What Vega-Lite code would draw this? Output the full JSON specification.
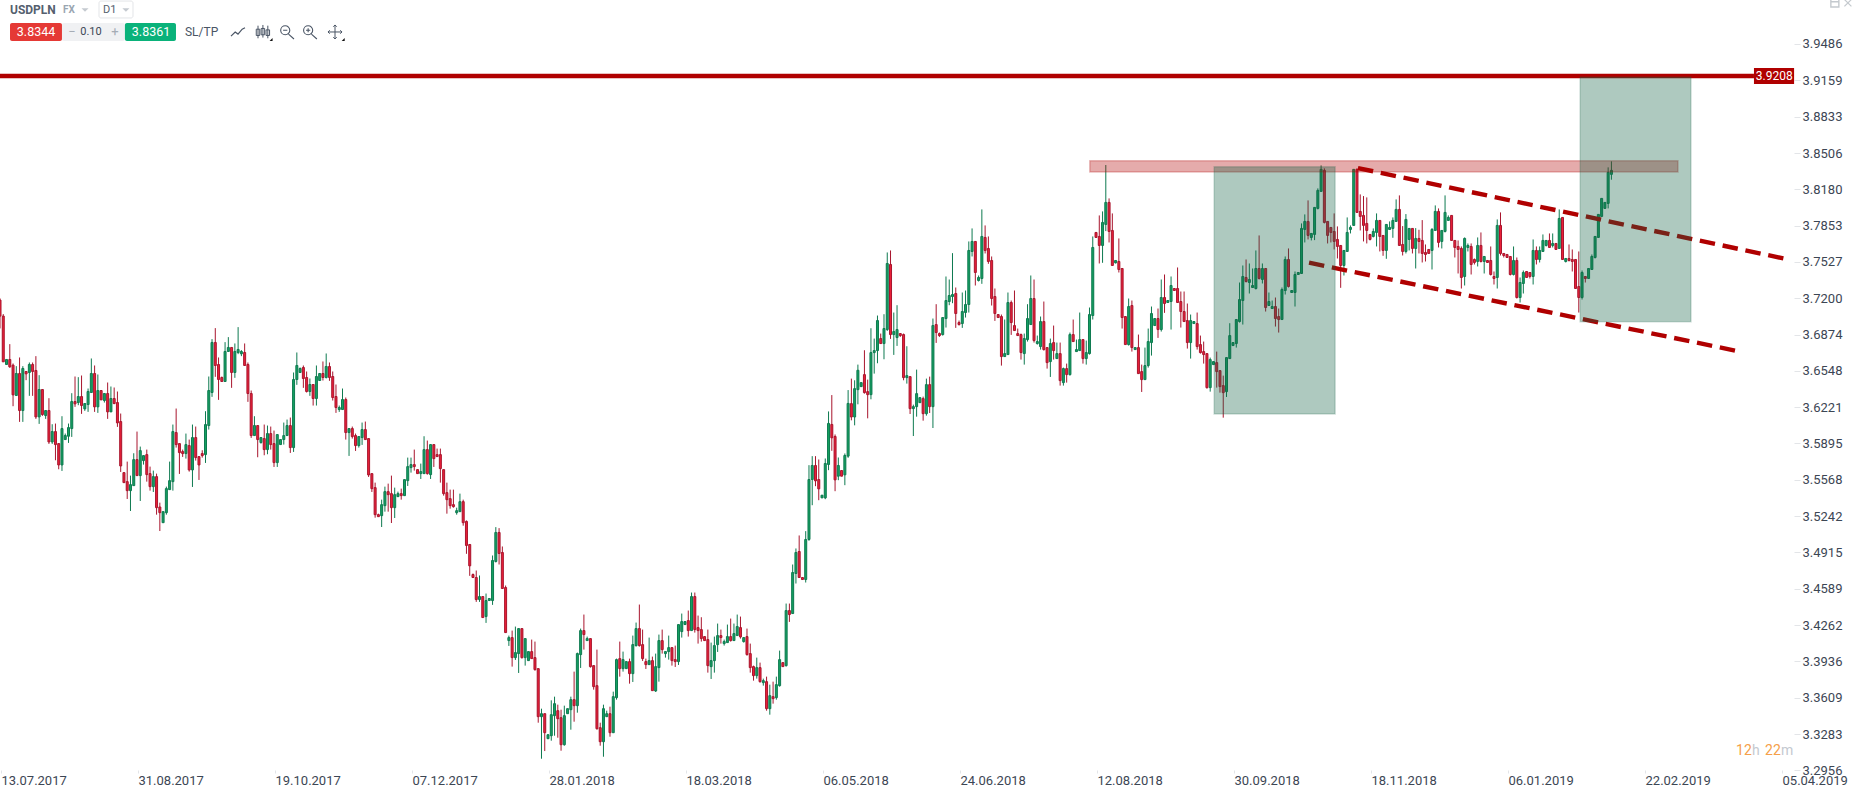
{"$schema":"https://vega.github.io/schema/vega-lite/v6.json","width":1859,"height":797,"autosize":"none","padding":0,"background":"white","config":{"view":{"stroke":null},"font":"Roboto"},
"datasets":{"candles":[
{"i":0,"o":3.7184,"h":3.7199,"l":3.6929,"c":3.704},{"i":1,"o":3.704,"h":3.7058,"l":3.6629,"c":3.6629},{"i":2,"o":3.6605,"h":3.665,"l":3.6605,"c":3.665},{"i":3,"o":3.665,"h":3.6788,"l":3.6575,"c":3.6584},{"i":4,"o":3.6599,"h":3.6614,"l":3.623,"c":3.6332},{"i":5,"o":3.6326,"h":3.659,"l":3.6326,"c":3.6524},{"i":6,"o":3.6524,"h":3.6668,"l":3.6089,"c":3.6191},{"i":7,"o":3.6191,"h":3.659,"l":3.6089,"c":3.6569},{"i":8,"o":3.6542,"h":3.6542,"l":3.6464,"c":3.6521},{"i":9,"o":3.6533,"h":3.6623,"l":3.6323,"c":3.6605},
{"i":10,"o":3.6605,"h":3.6623,"l":3.6323,"c":3.6542},{"i":11,"o":3.6551,"h":3.668,"l":3.6116,"c":3.6134},{"i":12,"o":3.6134,"h":3.6509,"l":3.6071,"c":3.638},{"i":13,"o":3.638,"h":3.638,"l":3.6143,"c":3.6155},{"i":14,"o":3.6146,"h":3.6191,"l":3.6116,"c":3.6191},{"i":15,"o":3.6191,"h":3.6302,"l":3.5891,"c":3.5909},{"i":16,"o":3.5909,"h":3.6068,"l":3.5891,"c":3.6002},{"i":17,"o":3.6002,"h":3.6074,"l":3.5744,"c":3.5885},{"i":18,"o":3.5894,"h":3.5894,"l":3.5663,"c":3.5702},{"i":19,"o":3.5702,"h":3.614,"l":3.5648,"c":3.6029},
{"i":20,"o":3.593,"h":3.5984,"l":3.593,"c":3.5966},{"i":21,"o":3.596,"h":3.6074,"l":3.59,"c":3.6038},{"i":22,"o":3.6029,"h":3.6347,"l":3.5954,"c":3.6272},{"i":23,"o":3.6272,"h":3.6497,"l":3.6224,"c":3.6251},{"i":24,"o":3.6263,"h":3.6491,"l":3.6239,"c":3.6317},{"i":25,"o":3.6317,"h":3.6506,"l":3.6161,"c":3.6236},{"i":26,"o":3.6206,"h":3.6254,"l":3.6188,"c":3.6254},{"i":27,"o":3.6245,"h":3.6389,"l":3.6179,"c":3.6362},{"i":28,"o":3.6353,"h":3.6659,"l":3.6353,"c":3.6524},{"i":29,"o":3.6524,"h":3.6596,"l":3.6179,"c":3.6224},
{"i":30,"o":3.6224,"h":3.6515,"l":3.617,"c":3.6371},{"i":31,"o":3.6371,"h":3.6371,"l":3.6287,"c":3.6287},{"i":32,"o":3.6281,"h":3.6344,"l":3.6263,"c":3.6344},{"i":33,"o":3.6344,"h":3.6443,"l":3.6116,"c":3.6179},{"i":34,"o":3.6179,"h":3.6407,"l":3.6179,"c":3.6299},{"i":35,"o":3.6299,"h":3.6398,"l":3.6248,"c":3.6254},{"i":36,"o":3.6263,"h":3.6362,"l":3.6044,"c":3.608},{"i":37,"o":3.6092,"h":3.6164,"l":3.5639,"c":3.5693},{"i":38,"o":3.5633,"h":3.5633,"l":3.5543,"c":3.5543},{"i":39,"o":3.5552,"h":3.5732,"l":3.5396,"c":3.5471},
{"i":40,"o":3.5471,"h":3.5606,"l":3.5288,"c":3.5525},{"i":41,"o":3.5516,"h":3.5807,"l":3.5516,"c":3.575},{"i":42,"o":3.575,"h":3.6002,"l":3.5606,"c":3.5606},{"i":43,"o":3.5606,"h":3.5867,"l":3.5378,"c":3.5831},{"i":44,"o":3.5741,"h":3.5786,"l":3.5705,"c":3.5786},{"i":45,"o":3.5795,"h":3.584,"l":3.5552,"c":3.5615},{"i":46,"o":3.5624,"h":3.5687,"l":3.5471,"c":3.5507},{"i":47,"o":3.5507,"h":3.5651,"l":3.5459,"c":3.5597},{"i":48,"o":3.5597,"h":3.5624,"l":3.5255,"c":3.5318},{"i":49,"o":3.5324,"h":3.5363,"l":3.5108,"c":3.5273},
{"i":50,"o":3.5183,"h":3.5282,"l":3.5183,"c":3.5282},{"i":51,"o":3.5273,"h":3.5507,"l":3.5255,"c":3.5489},{"i":52,"o":3.548,"h":3.5732,"l":3.548,"c":3.5561},{"i":53,"o":3.5552,"h":3.6065,"l":3.5471,"c":3.6002},{"i":54,"o":3.5993,"h":3.6209,"l":3.5858,"c":3.5885},{"i":55,"o":3.5894,"h":3.5894,"l":3.5621,"c":3.5813},{"i":56,"o":3.5822,"h":3.584,"l":3.5774,"c":3.5804},{"i":57,"o":3.5804,"h":3.5984,"l":3.5759,"c":3.5885},{"i":58,"o":3.5876,"h":3.593,"l":3.5642,"c":3.5657},{"i":59,"o":3.5657,"h":3.6065,"l":3.5504,"c":3.5948},
{"i":60,"o":3.5948,"h":3.6047,"l":3.5741,"c":3.5768},{"i":61,"o":3.5777,"h":3.5777,"l":3.5567,"c":3.5702},{"i":62,"o":3.5804,"h":3.5834,"l":3.5768,"c":3.5786},{"i":63,"o":3.5795,"h":3.6185,"l":3.572,"c":3.6065},{"i":64,"o":3.6056,"h":3.6497,"l":3.602,"c":3.6371},{"i":65,"o":3.6353,"h":3.6833,"l":3.6314,"c":3.6803},{"i":66,"o":3.6803,"h":3.6932,"l":3.6494,"c":3.6596},{"i":67,"o":3.6605,"h":3.6668,"l":3.6287,"c":3.647},{"i":68,"o":3.6488,"h":3.6497,"l":3.6452,"c":3.6452},{"i":69,"o":3.6452,"h":3.6806,"l":3.6452,"c":3.6722},
{"i":70,"o":3.6722,"h":3.6851,"l":3.6722,"c":3.6758},{"i":71,"o":3.6758,"h":3.6758,"l":3.6395,"c":3.6533},{"i":72,"o":3.6533,"h":3.6794,"l":3.6485,"c":3.6722},{"i":73,"o":3.6713,"h":3.6941,"l":3.6698,"c":3.674},{"i":74,"o":3.6701,"h":3.6734,"l":3.668,"c":3.6722},{"i":75,"o":3.6713,"h":3.6794,"l":3.6596,"c":3.6596},{"i":76,"o":3.6605,"h":3.6623,"l":3.6269,"c":3.6344},{"i":77,"o":3.6344,"h":3.6371,"l":3.5945,"c":3.5966},{"i":78,"o":3.5966,"h":3.614,"l":3.5966,"c":3.6056},{"i":79,"o":3.6056,"h":3.6056,"l":3.5771,"c":3.593},
{"i":80,"o":3.5903,"h":3.5948,"l":3.5894,"c":3.5948},{"i":81,"o":3.5939,"h":3.6065,"l":3.5789,"c":3.584},{"i":82,"o":3.584,"h":3.6056,"l":3.5798,"c":3.5984},{"i":83,"o":3.5984,"h":3.6047,"l":3.584,"c":3.5885},{"i":84,"o":3.5894,"h":3.6011,"l":3.5684,"c":3.5723},{"i":85,"o":3.5723,"h":3.5975,"l":3.5684,"c":3.5975},{"i":86,"o":3.5885,"h":3.593,"l":3.5885,"c":3.593},{"i":87,"o":3.593,"h":3.6083,"l":3.5885,"c":3.5966},{"i":88,"o":3.5966,"h":3.611,"l":3.5966,"c":3.6056},{"i":89,"o":3.6056,"h":3.6128,"l":3.581,"c":3.5858},
{"i":90,"o":3.5858,"h":3.6533,"l":3.5819,"c":3.647},{"i":91,"o":3.647,"h":3.6713,"l":3.6422,"c":3.6596},{"i":92,"o":3.6533,"h":3.6578,"l":3.6533,"c":3.6569},{"i":93,"o":3.6578,"h":3.6596,"l":3.6395,"c":3.6479},{"i":94,"o":3.6488,"h":3.6542,"l":3.6353,"c":3.6362},{"i":95,"o":3.6362,"h":3.6479,"l":3.6323,"c":3.6425},{"i":96,"o":3.6425,"h":3.6425,"l":3.6236,"c":3.6299},{"i":97,"o":3.6299,"h":3.6596,"l":3.6236,"c":3.6497},{"i":98,"o":3.6461,"h":3.6524,"l":3.6461,"c":3.6524},{"i":99,"o":3.6524,"h":3.6632,"l":3.6461,"c":3.6488},
{"i":100,"o":3.6488,"h":3.6704,"l":3.6479,"c":3.6587},{"i":101,"o":3.6587,"h":3.6623,"l":3.6458,"c":3.6488},{"i":102,"o":3.6497,"h":3.6542,"l":3.6281,"c":3.6308},{"i":103,"o":3.6317,"h":3.6425,"l":3.617,"c":3.6218},{"i":104,"o":3.62,"h":3.6236,"l":3.6179,"c":3.6218},{"i":105,"o":3.62,"h":3.6389,"l":3.62,"c":3.629},{"i":106,"o":3.629,"h":3.6308,"l":3.593,"c":3.5993},{"i":107,"o":3.5993,"h":3.6029,"l":3.5783,"c":3.6029},{"i":108,"o":3.6029,"h":3.6047,"l":3.5939,"c":3.5957},{"i":109,"o":3.5966,"h":3.5984,"l":3.5828,"c":3.5876},
{"i":110,"o":3.5876,"h":3.5957,"l":3.5858,"c":3.5957},{"i":111,"o":3.5948,"h":3.6083,"l":3.5882,"c":3.602},{"i":112,"o":3.602,"h":3.6092,"l":3.593,"c":3.593},{"i":113,"o":3.5939,"h":3.5939,"l":3.5594,"c":3.5612},{"i":114,"o":3.5624,"h":3.5624,"l":3.5459,"c":3.5489},{"i":115,"o":3.5498,"h":3.5543,"l":3.5228,"c":3.5255},{"i":116,"o":3.5255,"h":3.5264,"l":3.5237,"c":3.5237},{"i":117,"o":3.5246,"h":3.539,"l":3.5144,"c":3.5345},{"i":118,"o":3.5336,"h":3.5507,"l":3.5282,"c":3.5462},{"i":119,"o":3.5462,"h":3.5534,"l":3.5282,"c":3.5435},
{"i":120,"o":3.5444,"h":3.5606,"l":3.518,"c":3.5318},{"i":121,"o":3.5318,"h":3.5498,"l":3.5225,"c":3.5435},{"i":122,"o":3.5417,"h":3.5462,"l":3.5417,"c":3.5444},{"i":123,"o":3.5444,"h":3.5489,"l":3.539,"c":3.5426},{"i":124,"o":3.5426,"h":3.557,"l":3.5426,"c":3.557},{"i":125,"o":3.5561,"h":3.5768,"l":3.5513,"c":3.5687},{"i":126,"o":3.5678,"h":3.5768,"l":3.5633,"c":3.5705},{"i":127,"o":3.5705,"h":3.584,"l":3.5651,"c":3.5687},{"i":128,"o":3.566,"h":3.566,"l":3.5624,"c":3.5624},{"i":129,"o":3.5624,"h":3.5714,"l":3.5576,"c":3.5642},
{"i":130,"o":3.5624,"h":3.596,"l":3.5624,"c":3.584},{"i":131,"o":3.584,"h":3.5921,"l":3.5615,"c":3.5624},{"i":132,"o":3.5615,"h":3.5885,"l":3.5576,"c":3.5885},{"i":133,"o":3.5885,"h":3.5885,"l":3.5684,"c":3.5759},{"i":134,"o":3.5795,"h":3.5849,"l":3.5777,"c":3.5777},{"i":135,"o":3.5795,"h":3.5849,"l":3.5543,"c":3.5669},{"i":136,"o":3.566,"h":3.566,"l":3.5426,"c":3.5444},{"i":137,"o":3.5453,"h":3.5543,"l":3.5264,"c":3.539},{"i":138,"o":3.5399,"h":3.548,"l":3.5309,"c":3.5336},{"i":139,"o":3.5345,"h":3.548,"l":3.5318,"c":3.5327},
{"i":140,"o":3.5273,"h":3.5318,"l":3.5255,"c":3.5291},{"i":141,"o":3.5282,"h":3.5444,"l":3.5282,"c":3.5372},{"i":142,"o":3.5372,"h":3.539,"l":3.5156,"c":3.5183},{"i":143,"o":3.5194,"h":3.5203,"l":3.4903,"c":3.4978},{"i":144,"o":3.4987,"h":3.4987,"l":3.4705,"c":3.4795},{"i":145,"o":3.4717,"h":3.4726,"l":3.469,"c":3.469},{"i":146,"o":3.469,"h":3.4753,"l":3.4471,"c":3.4492},{"i":147,"o":3.4492,"h":3.4708,"l":3.4471,"c":3.4519},{"i":148,"o":3.4519,"h":3.4519,"l":3.433,"c":3.433},{"i":149,"o":3.4339,"h":3.4546,"l":3.4282,"c":3.4483},
{"i":150,"o":3.4483,"h":3.4501,"l":3.4483,"c":3.4501},{"i":151,"o":3.4483,"h":3.4888,"l":3.4444,"c":3.4843},{"i":152,"o":3.4834,"h":3.5143,"l":3.4825,"c":3.5095},{"i":153,"o":3.5095,"h":3.5134,"l":3.4807,"c":3.4906},{"i":154,"o":3.4915,"h":3.4969,"l":3.4591,"c":3.4591},{"i":155,"o":3.46,"h":3.4618,"l":3.4195,"c":3.4195},{"i":156,"o":3.4123,"h":3.4168,"l":3.4075,"c":3.415},{"i":157,"o":3.415,"h":3.4213,"l":3.3889,"c":3.397},{"i":158,"o":3.397,"h":3.4249,"l":3.3949,"c":3.4015},{"i":159,"o":3.4006,"h":3.4231,"l":3.3832,"c":3.4231},
{"i":160,"o":3.4231,"h":3.4231,"l":3.3961,"c":3.397},{"i":161,"o":3.397,"h":3.4141,"l":3.3898,"c":3.4141},{"i":162,"o":3.3943,"h":3.4024,"l":3.3943,"c":3.4024},{"i":163,"o":3.4024,"h":3.4132,"l":3.3961,"c":3.3961},{"i":164,"o":3.397,"h":3.4114,"l":3.3853,"c":3.3862},{"i":165,"o":3.3871,"h":3.3871,"l":3.3385,"c":3.3439},{"i":166,"o":3.3439,"h":3.3511,"l":3.3061,"c":3.3466},{"i":167,"o":3.3466,"h":3.3466,"l":3.313,"c":3.3295},{"i":168,"o":3.3241,"h":3.3277,"l":3.3241,"c":3.3277},{"i":169,"o":3.3268,"h":3.3586,"l":3.3223,"c":3.3457},
{"i":170,"o":3.3448,"h":3.3619,"l":3.3268,"c":3.3556},{"i":171,"o":3.3493,"h":3.3547,"l":3.325,"c":3.3421},{"i":172,"o":3.343,"h":3.3502,"l":3.3133,"c":3.3187},{"i":173,"o":3.3187,"h":3.3538,"l":3.3178,"c":3.3448},{"i":174,"o":3.3466,"h":3.3511,"l":3.3466,"c":3.3511},{"i":175,"o":3.3502,"h":3.3619,"l":3.3322,"c":3.3592},{"i":176,"o":3.3592,"h":3.3844,"l":3.3394,"c":3.3538},{"i":177,"o":3.3538,"h":3.4015,"l":3.3475,"c":3.4006},{"i":178,"o":3.3997,"h":3.4231,"l":3.3877,"c":3.4213},{"i":179,"o":3.4213,"h":3.4357,"l":3.4042,"c":3.4177},
{"i":180,"o":3.4123,"h":3.4159,"l":3.4123,"c":3.4141},{"i":181,"o":3.4141,"h":3.4141,"l":3.388,"c":3.3889},{"i":182,"o":3.3898,"h":3.3898,"l":3.3682,"c":3.3709},{"i":183,"o":3.3718,"h":3.4042,"l":3.3322,"c":3.3331},{"i":184,"o":3.334,"h":3.3385,"l":3.3178,"c":3.3214},{"i":185,"o":3.3214,"h":3.3547,"l":3.3079,"c":3.3511},{"i":186,"o":3.3439,"h":3.3493,"l":3.3439,"c":3.3466},{"i":187,"o":3.3466,"h":3.3529,"l":3.3259,"c":3.3295},{"i":188,"o":3.3295,"h":3.3664,"l":3.3295,"c":3.3619},{"i":189,"o":3.361,"h":3.3961,"l":3.3592,"c":3.3952},
{"i":190,"o":3.3961,"h":3.4114,"l":3.3799,"c":3.3871},{"i":191,"o":3.3871,"h":3.4024,"l":3.3844,"c":3.3952},{"i":192,"o":3.3871,"h":3.3934,"l":3.3871,"c":3.3934},{"i":193,"o":3.3934,"h":3.3961,"l":3.3736,"c":3.3826},{"i":194,"o":3.3826,"h":3.4168,"l":3.3751,"c":3.4087},{"i":195,"o":3.4078,"h":3.4285,"l":3.4069,"c":3.4231},{"i":196,"o":3.4231,"h":3.4447,"l":3.4069,"c":3.4078},{"i":197,"o":3.4087,"h":3.4222,"l":3.394,"c":3.3961},{"i":198,"o":3.3934,"h":3.3961,"l":3.3868,"c":3.3907},{"i":199,"o":3.3907,"h":3.415,"l":3.3907,"c":3.3943},
{"i":200,"o":3.3943,"h":3.3979,"l":3.3673,"c":3.3673},{"i":201,"o":3.367,"h":3.4006,"l":3.3661,"c":3.3889},{"i":202,"o":3.388,"h":3.4177,"l":3.3754,"c":3.4123},{"i":203,"o":3.4123,"h":3.4222,"l":3.4006,"c":3.4042},{"i":204,"o":3.4006,"h":3.4024,"l":3.397,"c":3.4024},{"i":205,"o":3.4024,"h":3.4168,"l":3.3952,"c":3.406},{"i":206,"o":3.406,"h":3.406,"l":3.3898,"c":3.3943},{"i":207,"o":3.3952,"h":3.4078,"l":3.3886,"c":3.3934},{"i":208,"o":3.3934,"h":3.4267,"l":3.3904,"c":3.4267},{"i":209,"o":3.4204,"h":3.4366,"l":3.415,"c":3.4294},
{"i":210,"o":3.4267,"h":3.4294,"l":3.4267,"c":3.4294},{"i":211,"o":3.4303,"h":3.4393,"l":3.4159,"c":3.4213},{"i":212,"o":3.4213,"h":3.4555,"l":3.4213,"c":3.4519},{"i":213,"o":3.4519,"h":3.4555,"l":3.4195,"c":3.4222},{"i":214,"o":3.424,"h":3.4348,"l":3.4096,"c":3.4213},{"i":215,"o":3.4222,"h":3.4333,"l":3.4114,"c":3.4141},{"i":216,"o":3.4159,"h":3.4159,"l":3.4123,"c":3.4123},{"i":217,"o":3.4132,"h":3.4222,"l":3.3835,"c":3.3898},{"i":218,"o":3.3889,"h":3.4105,"l":3.3778,"c":3.3943},{"i":219,"o":3.3943,"h":3.4159,"l":3.3835,"c":3.4078},
{"i":220,"o":3.4087,"h":3.4276,"l":3.4021,"c":3.4168},{"i":221,"o":3.4168,"h":3.4222,"l":3.4096,"c":3.415},{"i":222,"o":3.4096,"h":3.4132,"l":3.4078,"c":3.4114},{"i":223,"o":3.4105,"h":3.4267,"l":3.4105,"c":3.4159},{"i":224,"o":3.4159,"h":3.4321,"l":3.4114,"c":3.4123},{"i":225,"o":3.4123,"h":3.4276,"l":3.4123,"c":3.4186},{"i":226,"o":3.4168,"h":3.4357,"l":3.4168,"c":3.4249},{"i":227,"o":3.424,"h":3.4339,"l":3.4141,"c":3.4156},{"i":228,"o":3.4114,"h":3.415,"l":3.4105,"c":3.415},{"i":229,"o":3.4159,"h":3.4231,"l":3.3988,"c":3.3997},
{"i":230,"o":3.4006,"h":3.4096,"l":3.3835,"c":3.388},{"i":231,"o":3.3889,"h":3.3898,"l":3.3763,"c":3.3808},{"i":232,"o":3.3808,"h":3.397,"l":3.3781,"c":3.388},{"i":233,"o":3.388,"h":3.3925,"l":3.3745,"c":3.3754},{"i":234,"o":3.3745,"h":3.3781,"l":3.3718,"c":3.3763},{"i":235,"o":3.3754,"h":3.3799,"l":3.3493,"c":3.3511},{"i":236,"o":3.3511,"h":3.3727,"l":3.3457,"c":3.3628},{"i":237,"o":3.3619,"h":3.3754,"l":3.3556,"c":3.3601},{"i":238,"o":3.361,"h":3.3799,"l":3.3592,"c":3.3727},{"i":239,"o":3.3718,"h":3.4033,"l":3.3709,"c":3.3952},
{"i":240,"o":3.3925,"h":3.3925,"l":3.3889,"c":3.3889},{"i":241,"o":3.3898,"h":3.4456,"l":3.3889,"c":3.4393},{"i":242,"o":3.4393,"h":3.4456,"l":3.4291,"c":3.4357},{"i":243,"o":3.4366,"h":3.4807,"l":3.4366,"c":3.4735},{"i":244,"o":3.4726,"h":3.4951,"l":3.4636,"c":3.4915},{"i":245,"o":3.4924,"h":3.5068,"l":3.469,"c":3.469},{"i":246,"o":3.469,"h":3.469,"l":3.4672,"c":3.4672},{"i":247,"o":3.4672,"h":3.5107,"l":3.4645,"c":3.5032},{"i":248,"o":3.5032,"h":3.57,"l":3.502,"c":3.5571},{"i":249,"o":3.5571,"h":3.5781,"l":3.534,"c":3.5697},
{"i":250,"o":3.5697,"h":3.5781,"l":3.5511,"c":3.5559},{"i":251,"o":3.5571,"h":3.5751,"l":3.5385,"c":3.5487},{"i":252,"o":3.5406,"h":3.543,"l":3.5406,"c":3.543},{"i":253,"o":3.5406,"h":3.576,"l":3.5394,"c":3.5715},{"i":254,"o":3.5706,"h":3.6183,"l":3.5655,"c":3.6075},{"i":255,"o":3.6066,"h":3.633,"l":3.5829,"c":3.5946},{"i":256,"o":3.5958,"h":3.5976,"l":3.5466,"c":3.5568},{"i":257,"o":3.5601,"h":3.5769,"l":3.5565,"c":3.5697},{"i":258,"o":3.5652,"h":3.5652,"l":3.5601,"c":3.5601},{"i":259,"o":3.5613,"h":3.5805,"l":3.552,"c":3.5787},
{"i":260,"o":3.5781,"h":3.6375,"l":3.5766,"c":3.6255},{"i":261,"o":3.6253,"h":3.6478,"l":3.6103,"c":3.6133},{"i":262,"o":3.6133,"h":3.6463,"l":3.6058,"c":3.6388},{"i":263,"o":3.6379,"h":3.6604,"l":3.6247,"c":3.6553},{"i":264,"o":3.6406,"h":3.6442,"l":3.6406,"c":3.6442},{"i":265,"o":3.6514,"h":3.6733,"l":3.6343,"c":3.6352},{"i":266,"o":3.6361,"h":3.6469,"l":3.6121,"c":3.6334},{"i":267,"o":3.6334,"h":3.6931,"l":3.6292,"c":3.6712},{"i":268,"o":3.6712,"h":3.6838,"l":3.6523,"c":3.673},{"i":269,"o":3.673,"h":3.7045,"l":3.6616,"c":3.7},
{"i":270,"o":3.6838,"h":3.6883,"l":3.6793,"c":3.6793},{"i":271,"o":3.6793,"h":3.7057,"l":3.6652,"c":3.6928},{"i":272,"o":3.6919,"h":3.7612,"l":3.6907,"c":3.7513},{"i":273,"o":3.7504,"h":3.763,"l":3.6835,"c":3.6874},{"i":274,"o":3.6874,"h":3.7072,"l":3.6691,"c":3.6901},{"i":275,"o":3.6847,"h":3.7138,"l":3.6772,"c":3.6919},{"i":276,"o":3.6883,"h":3.6883,"l":3.6853,"c":3.6865},{"i":277,"o":3.6874,"h":3.6883,"l":3.6463,"c":3.6487},{"i":278,"o":3.6487,"h":3.6769,"l":3.6433,"c":3.6505},{"i":279,"o":3.6496,"h":3.6496,"l":3.616,"c":3.6208},
{"i":280,"o":3.6208,"h":3.6244,"l":3.5962,"c":3.6226},{"i":281,"o":3.6226,"h":3.6559,"l":3.6136,"c":3.6343},{"i":282,"o":3.6262,"h":3.6307,"l":3.6262,"c":3.6307},{"i":283,"o":3.6298,"h":3.6316,"l":3.61,"c":3.6163},{"i":284,"o":3.6163,"h":3.6478,"l":3.6145,"c":3.6424},{"i":285,"o":3.6424,"h":3.6496,"l":3.6169,"c":3.6226},{"i":286,"o":3.6226,"h":3.7018,"l":3.6034,"c":3.6955},{"i":287,"o":3.6964,"h":3.7147,"l":3.6799,"c":3.6892},{"i":288,"o":3.6883,"h":3.6892,"l":3.6853,"c":3.6865},{"i":289,"o":3.6874,"h":3.7027,"l":3.6865,"c":3.7027},
{"i":290,"o":3.7018,"h":3.7396,"l":3.6937,"c":3.718},{"i":291,"o":3.7171,"h":3.7369,"l":3.7138,"c":3.7225},{"i":292,"o":3.7216,"h":3.7606,"l":3.7156,"c":3.7234},{"i":293,"o":3.7243,"h":3.7297,"l":3.6934,"c":3.7063},{"i":294,"o":3.6982,"h":3.7,"l":3.6955,"c":3.6964},{"i":295,"o":3.6973,"h":3.7252,"l":3.6934,"c":3.7081},{"i":296,"o":3.7072,"h":3.727,"l":3.7027,"c":3.7144},{"i":297,"o":3.7144,"h":3.7711,"l":3.7072,"c":3.763},{"i":298,"o":3.7621,"h":3.7828,"l":3.7576,"c":3.7711},{"i":299,"o":3.7711,"h":3.7711,"l":3.7315,"c":3.7432},
{"i":300,"o":3.736,"h":3.7405,"l":3.7351,"c":3.7387},{"i":301,"o":3.7378,"h":3.7999,"l":3.733,"c":3.7756},{"i":302,"o":3.7747,"h":3.7855,"l":3.7603,"c":3.763},{"i":303,"o":3.7648,"h":3.7756,"l":3.751,"c":3.7531},{"i":304,"o":3.754,"h":3.7576,"l":3.7135,"c":3.7198},{"i":305,"o":3.7216,"h":3.7288,"l":3.6997,"c":3.7063},{"i":306,"o":3.7054,"h":3.7054,"l":3.7027,"c":3.7027},{"i":307,"o":3.7036,"h":3.7054,"l":3.6595,"c":3.6676},{"i":308,"o":3.6676,"h":3.7009,"l":3.6676,"c":3.6703},{"i":309,"o":3.6694,"h":3.7252,"l":3.6694,"c":3.7162},
{"i":310,"o":3.7162,"h":3.718,"l":3.6871,"c":3.6982},{"i":311,"o":3.6955,"h":3.727,"l":3.691,"c":3.691},{"i":312,"o":3.6883,"h":3.6928,"l":3.6865,"c":3.6865},{"i":313,"o":3.6874,"h":3.6883,"l":3.6649,"c":3.6712},{"i":314,"o":3.6703,"h":3.6883,"l":3.6604,"c":3.6838},{"i":315,"o":3.6829,"h":3.7147,"l":3.6811,"c":3.7018},{"i":316,"o":3.6964,"h":3.7405,"l":3.6964,"c":3.7198},{"i":317,"o":3.7198,"h":3.7369,"l":3.6802,"c":3.682},{"i":318,"o":3.6793,"h":3.6865,"l":3.6784,"c":3.6811},{"i":319,"o":3.6766,"h":3.7036,"l":3.6739,"c":3.6991},
{"i":320,"o":3.6991,"h":3.7171,"l":3.673,"c":3.6739},{"i":321,"o":3.6757,"h":3.6757,"l":3.6568,"c":3.6622},{"i":322,"o":3.6631,"h":3.6838,"l":3.6493,"c":3.6793},{"i":323,"o":3.6802,"h":3.6955,"l":3.6649,"c":3.673},{"i":324,"o":3.6658,"h":3.6802,"l":3.6658,"c":3.6703},{"i":325,"o":3.6703,"h":3.6802,"l":3.6415,"c":3.646},{"i":326,"o":3.6442,"h":3.6577,"l":3.6415,"c":3.6568},{"i":327,"o":3.6568,"h":3.6613,"l":3.6442,"c":3.6514},{"i":328,"o":3.6514,"h":3.6892,"l":3.6505,"c":3.6874},{"i":329,"o":3.6874,"h":3.7009,"l":3.6811,"c":3.6811},
{"i":330,"o":3.6721,"h":3.6829,"l":3.6721,"c":3.6739},{"i":331,"o":3.673,"h":3.7072,"l":3.673,"c":3.6829},{"i":332,"o":3.6829,"h":3.6829,"l":3.6613,"c":3.6658},{"i":333,"o":3.6658,"h":3.682,"l":3.6604,"c":3.6712},{"i":334,"o":3.6703,"h":3.7117,"l":3.6694,"c":3.7054},{"i":335,"o":3.7045,"h":3.7756,"l":3.7009,"c":3.7657},{"i":336,"o":3.7792,"h":3.7792,"l":3.7747,"c":3.7747},{"i":337,"o":3.7756,"h":3.7945,"l":3.7513,"c":3.7675},{"i":338,"o":3.7675,"h":3.7981,"l":3.7519,"c":3.7882},{"i":339,"o":3.7864,"h":3.8398,"l":3.7804,"c":3.8062},
{"i":340,"o":3.8062,"h":3.8098,"l":3.7702,"c":3.7801},{"i":341,"o":3.781,"h":3.7963,"l":3.7495,"c":3.7495},{"i":342,"o":3.7519,"h":3.754,"l":3.7513,"c":3.754},{"i":343,"o":3.7531,"h":3.7738,"l":3.7432,"c":3.7459},{"i":344,"o":3.7468,"h":3.7468,"l":3.6928,"c":3.7027},{"i":345,"o":3.7036,"h":3.7036,"l":3.6784,"c":3.6784},{"i":346,"o":3.6784,"h":3.7198,"l":3.6775,"c":3.7126},{"i":347,"o":3.7135,"h":3.718,"l":3.6721,"c":3.6757},{"i":348,"o":3.6739,"h":3.6757,"l":3.6739,"c":3.6757},{"i":349,"o":3.6757,"h":3.6874,"l":3.6523,"c":3.6523},
{"i":350,"o":3.6541,"h":3.6604,"l":3.6358,"c":3.6469},{"i":351,"o":3.6469,"h":3.6757,"l":3.6469,"c":3.6595},{"i":352,"o":3.6595,"h":3.6928,"l":3.6577,"c":3.6811},{"i":353,"o":3.6802,"h":3.7126,"l":3.6685,"c":3.7063},{"i":354,"o":3.6955,"h":3.7018,"l":3.6955,"c":3.7018},{"i":355,"o":3.7018,"h":3.7108,"l":3.6844,"c":3.6919},{"i":356,"o":3.6919,"h":3.7369,"l":3.6901,"c":3.7207},{"i":357,"o":3.7207,"h":3.7414,"l":3.7069,"c":3.7153},{"i":358,"o":3.7162,"h":3.718,"l":3.7159,"c":3.718},{"i":359,"o":3.7171,"h":3.7396,"l":3.6919,"c":3.7315},
{"i":360,"o":3.7288,"h":3.7288,"l":3.727,"c":3.727},{"i":361,"o":3.7288,"h":3.7477,"l":3.7162,"c":3.7162},{"i":362,"o":3.7171,"h":3.7261,"l":3.6937,"c":3.7081},{"i":363,"o":3.7081,"h":3.7261,"l":3.6991,"c":3.6991},{"i":364,"o":3.7,"h":3.7153,"l":3.6748,"c":3.6802},{"i":365,"o":3.6802,"h":3.7054,"l":3.6658,"c":3.7},{"i":366,"o":3.6973,"h":3.6991,"l":3.6973,"c":3.6991},{"i":367,"o":3.6973,"h":3.7072,"l":3.6739,"c":3.6766},{"i":368,"o":3.6784,"h":3.6865,"l":3.6703,"c":3.6712},{"i":369,"o":3.6721,"h":3.6811,"l":3.6613,"c":3.6694},
{"i":370,"o":3.6703,"h":3.6703,"l":3.6388,"c":3.6397},{"i":371,"o":3.6397,"h":3.6667,"l":3.6361,"c":3.6649},{"i":372,"o":3.6604,"h":3.6631,"l":3.6604,"c":3.6631},{"i":373,"o":3.6622,"h":3.6721,"l":3.6397,"c":3.6541},{"i":374,"o":3.655,"h":3.655,"l":3.6352,"c":3.6406},{"i":375,"o":3.6415,"h":3.6505,"l":3.6127,"c":3.6352},{"i":376,"o":3.6361,"h":3.6667,"l":3.6313,"c":3.6667},{"i":377,"o":3.6658,"h":3.6976,"l":3.6658,"c":3.6865},{"i":378,"o":3.6775,"h":3.6802,"l":3.6775,"c":3.6802},{"i":379,"o":3.6793,"h":3.7009,"l":3.6757,"c":3.7009},
{"i":380,"o":3.6991,"h":3.7342,"l":3.6982,"c":3.7189},{"i":381,"o":3.718,"h":3.7495,"l":3.6964,"c":3.7396},{"i":382,"o":3.7387,"h":3.7549,"l":3.7342,"c":3.7351},{"i":383,"o":3.7342,"h":3.7513,"l":3.7243,"c":3.7369},{"i":384,"o":3.7297,"h":3.7468,"l":3.7297,"c":3.7315},{"i":385,"o":3.7288,"h":3.763,"l":3.7279,"c":3.7468},{"i":386,"o":3.7468,"h":3.7765,"l":3.7369,"c":3.7378},{"i":387,"o":3.7369,"h":3.7513,"l":3.7333,"c":3.7468},{"i":388,"o":3.7468,"h":3.7468,"l":3.7081,"c":3.7117},{"i":389,"o":3.7135,"h":3.7252,"l":3.7135,"c":3.7171},
{"i":390,"o":3.7108,"h":3.718,"l":3.7108,"c":3.7126},{"i":391,"o":3.7126,"h":3.7207,"l":3.6946,"c":3.7018},{"i":392,"o":3.7036,"h":3.7108,"l":3.6892,"c":3.7009},{"i":393,"o":3.7009,"h":3.7297,"l":3.7009,"c":3.7279},{"i":394,"o":3.727,"h":3.7576,"l":3.7234,"c":3.7549},{"i":395,"o":3.7549,"h":3.7648,"l":3.7297,"c":3.7306},{"i":396,"o":3.7252,"h":3.727,"l":3.7252,"c":3.727},{"i":397,"o":3.7252,"h":3.7441,"l":3.7126,"c":3.7414},{"i":398,"o":3.7414,"h":3.7432,"l":3.7414,"c":3.7432},{"i":399,"o":3.7423,"h":3.7873,"l":3.7423,"c":3.7828},
{"i":400,"o":3.7819,"h":3.7954,"l":3.7702,"c":3.7891},{"i":401,"o":3.7891,"h":3.808,"l":3.7729,"c":3.7765},{"i":402,"o":3.7747,"h":3.7783,"l":3.772,"c":3.7783},{"i":403,"o":3.7774,"h":3.8017,"l":3.7723,"c":3.8017},{"i":404,"o":3.8008,"h":3.8188,"l":3.7999,"c":3.817},{"i":405,"o":3.8161,"h":3.8395,"l":3.8161,"c":3.8359},{"i":406,"o":3.835,"h":3.8368,"l":3.7873,"c":3.7882},{"i":407,"o":3.7891,"h":3.7891,"l":3.7693,"c":3.7765},{"i":408,"o":3.7837,"h":3.7837,"l":3.7702,"c":3.7792},{"i":409,"o":3.7801,"h":3.7963,"l":3.7639,"c":3.7711},
{"i":410,"o":3.7729,"h":3.7846,"l":3.7558,"c":3.7666},{"i":411,"o":3.7675,"h":3.7675,"l":3.7294,"c":3.7495},{"i":412,"o":3.7495,"h":3.763,"l":3.7405,"c":3.763},{"i":413,"o":3.7621,"h":3.7927,"l":3.7621,"c":3.7792},{"i":414,"o":3.7819,"h":3.7855,"l":3.7783,"c":3.7837},{"i":415,"o":3.7855,"h":3.8359,"l":3.7855,"c":3.8359},{"i":416,"o":3.8359,"h":3.8368,"l":3.7972,"c":3.7972},{"i":417,"o":3.7981,"h":3.8134,"l":3.781,"c":3.7936},{"i":418,"o":3.7945,"h":3.8119,"l":3.7711,"c":3.7855},{"i":419,"o":3.7873,"h":3.8107,"l":3.7693,"c":3.781},
{"i":420,"o":3.7774,"h":3.7774,"l":3.772,"c":3.7729},{"i":421,"o":3.7756,"h":3.7828,"l":3.7747,"c":3.7801},{"i":422,"o":3.7792,"h":3.7963,"l":3.7666,"c":3.79},{"i":423,"o":3.79,"h":3.79,"l":3.7621,"c":3.7756},{"i":424,"o":3.7765,"h":3.7765,"l":3.7582,"c":3.763},{"i":425,"o":3.763,"h":3.7864,"l":3.7555,"c":3.7864},{"i":426,"o":3.7819,"h":3.7891,"l":3.7819,"c":3.7837},{"i":427,"o":3.7828,"h":3.7927,"l":3.7744,"c":3.79},{"i":428,"o":3.7891,"h":3.8089,"l":3.7891,"c":3.7999},{"i":429,"o":3.7999,"h":3.8125,"l":3.7675,"c":3.7675},
{"i":430,"o":3.7684,"h":3.7849,"l":3.7585,"c":3.7621},{"i":431,"o":3.7621,"h":3.7957,"l":3.7603,"c":3.7909},{"i":432,"o":3.7729,"h":3.7828,"l":3.763,"c":3.7828},{"i":433,"o":3.7828,"h":3.7828,"l":3.7603,"c":3.7648},{"i":434,"o":3.7648,"h":3.7831,"l":3.7468,"c":3.7738},{"i":435,"o":3.7738,"h":3.7816,"l":3.7603,"c":3.7711},{"i":436,"o":3.772,"h":3.7903,"l":3.7522,"c":3.7603},{"i":437,"o":3.7612,"h":3.7684,"l":3.7531,"c":3.7594},{"i":438,"o":3.7639,"h":3.7639,"l":3.7603,"c":3.7603},{"i":439,"o":3.763,"h":3.7831,"l":3.7459,"c":3.7819},
{"i":440,"o":3.781,"h":3.8035,"l":3.781,"c":3.7981},{"i":441,"o":3.7981,"h":3.8008,"l":3.7657,"c":3.7702},{"i":442,"o":3.7711,"h":3.781,"l":3.7648,"c":3.781},{"i":443,"o":3.7801,"h":3.8125,"l":3.7792,"c":3.7972},{"i":444,"o":3.79,"h":3.7945,"l":3.79,"c":3.7927},{"i":445,"o":3.7945,"h":3.7945,"l":3.772,"c":3.772},{"i":446,"o":3.772,"h":3.772,"l":3.7567,"c":3.7657},{"i":447,"o":3.7666,"h":3.772,"l":3.7423,"c":3.7639},{"i":448,"o":3.7648,"h":3.7666,"l":3.7288,"c":3.7387},{"i":449,"o":3.7396,"h":3.7747,"l":3.7315,"c":3.7738},
{"i":450,"o":3.7657,"h":3.7693,"l":3.7621,"c":3.7675},{"i":451,"o":3.7666,"h":3.7693,"l":3.7414,"c":3.7504},{"i":452,"o":3.7549,"h":3.7558,"l":3.7504,"c":3.7522},{"i":453,"o":3.7531,"h":3.7747,"l":3.7486,"c":3.7675},{"i":454,"o":3.7675,"h":3.7792,"l":3.7522,"c":3.7531},{"i":455,"o":3.7531,"h":3.7576,"l":3.7423,"c":3.7576},{"i":456,"o":3.754,"h":3.754,"l":3.7522,"c":3.7522},{"i":457,"o":3.754,"h":3.7666,"l":3.7405,"c":3.7414},{"i":458,"o":3.7396,"h":3.7441,"l":3.7324,"c":3.7378},{"i":459,"o":3.7387,"h":3.7909,"l":3.7288,"c":3.7855},
{"i":460,"o":3.7855,"h":3.7972,"l":3.7585,"c":3.7603},{"i":461,"o":3.7603,"h":3.7603,"l":3.7567,"c":3.7585},{"i":462,"o":3.7594,"h":3.7594,"l":3.7567,"c":3.7567},{"i":463,"o":3.7576,"h":3.7576,"l":3.7405,"c":3.7414},{"i":464,"o":3.7414,"h":3.7666,"l":3.7405,"c":3.754},{"i":465,"o":3.754,"h":3.7567,"l":3.7198,"c":3.7207},{"i":466,"o":3.7207,"h":3.7387,"l":3.7162,"c":3.7342},{"i":467,"o":3.7333,"h":3.745,"l":3.7243,"c":3.7432},{"i":468,"o":3.7441,"h":3.7441,"l":3.7387,"c":3.7387},{"i":469,"o":3.7432,"h":3.7432,"l":3.7378,"c":3.7396},
{"i":470,"o":3.7396,"h":3.7729,"l":3.7324,"c":3.763},{"i":471,"o":3.763,"h":3.7666,"l":3.7504,"c":3.7549},{"i":472,"o":3.7549,"h":3.7666,"l":3.7522,"c":3.763},{"i":473,"o":3.7621,"h":3.7774,"l":3.7621,"c":3.772},{"i":474,"o":3.7675,"h":3.772,"l":3.7666,"c":3.772},{"i":475,"o":3.772,"h":3.7783,"l":3.7657,"c":3.7657},{"i":476,"o":3.7675,"h":3.7783,"l":3.7657,"c":3.7693},{"i":477,"o":3.7693,"h":3.7693,"l":3.7639,"c":3.7639},{"i":478,"o":3.7648,"h":3.7999,"l":3.7648,"c":3.7918},{"i":479,"o":3.7927,"h":3.7927,"l":3.7549,"c":3.7549},
{"i":480,"o":3.7531,"h":3.7558,"l":3.7522,"c":3.7558},{"i":481,"o":3.7558,"h":3.7684,"l":3.7531,"c":3.754},{"i":482,"o":3.7549,"h":3.7639,"l":3.7441,"c":3.7531},{"i":483,"o":3.7549,"h":3.7549,"l":3.7288,"c":3.7288},{"i":484,"o":3.7306,"h":3.7621,"l":3.7072,"c":3.7207},{"i":485,"o":3.7207,"h":3.745,"l":3.7189,"c":3.7432},{"i":486,"o":3.7396,"h":3.7396,"l":3.7342,"c":3.7378},{"i":487,"o":3.7378,"h":3.7468,"l":3.7378,"c":3.7468},{"i":488,"o":3.7459,"h":3.7594,"l":3.7459,"c":3.7576},{"i":489,"o":3.7567,"h":3.7756,"l":3.7558,"c":3.7756},
{"i":490,"o":3.7747,"h":3.7954,"l":3.7747,"c":3.7954},{"i":491,"o":3.7936,"h":3.8098,"l":3.7936,"c":3.8098},{"i":492,"o":3.8008,"h":3.8062,"l":3.8008,"c":3.8062},{"i":493,"o":3.8053,"h":3.8377,"l":3.8008,"c":3.8332},{"i":494,"o":3.8314,"h":3.8431,"l":3.8266,"c":3.835}
],
"resist":[{"x0":334.1,"x1":514.4,"top":3.8437,"bot":3.8335}],
"boxes":[{"x0":372.2,"x1":409.3,"top":3.8383,"bot":3.616},{"x0":484.4,"x1":518.4,"top":3.9189,"bot":3.6989}],
"level":[{"x0":0,"x1":537.7,"v":3.9198}],
"trend":[{"x0":416.3,"x1":548.7,"v0":3.8371,"v1":3.7546},{"x0":401.3,"x1":533.1,"v0":3.752,"v1":3.6723}],
"tag":[{"x0":537.7,"x1":550,"top":3.927,"bot":3.9126,"xc":543.9,"yc":3.92,"t":"3.9208"}],
"topIcons":[{"x":562.5,"y":3.9855}]
},
"layer":[
{"data":{"name":"candles"},"mark":{"type":"rule","strokeWidth":1},"encoding":{
"x":{"field":"i","type":"quantitative","title":null,"scale":{"domain":[0,569.9],"nice":false,"zero":false,"padding":0},"axis":{"values":[0.3,42.3,84.3,126.3,168.3,210.3,252.3,294.3,336.3,378.3,420.3,462.3,504.3,546.3],"labelExpr":"['13.07.2017','31.08.2017','19.10.2017','07.12.2017','28.01.2018','18.03.2018','06.05.2018','24.06.2018','12.08.2018','30.09.2018','18.11.2018','06.01.2019','22.02.2019','05.04.2019'][round((datum.value-0.3)/42)]","labelAlign":"left","labelBaseline":"top","labelFont":"Roboto","labelFontSize":13,"labelColor":"#3c4654","labelPadding":1,"labelFlush":false,"labelOverlap":false,"tickCount":30,"tickSize":3,"tickColor":"#e3e5e8","domain":false,"grid":false,"offset":-27,"title":null}},
"y":{"field":"l","type":"quantitative","title":null,"scale":{"domain":[3.2717,3.98815],"nice":false,"zero":false,"padding":0},"axis":{"orient":"right","values":[3.9486,3.9159,3.8833,3.8506,3.818,3.7853,3.7527,3.72,3.6874,3.6548,3.6221,3.5895,3.5568,3.5242,3.4915,3.4589,3.4262,3.3936,3.3609,3.3283,3.2956],"format":".4f","labelFont":"Roboto","labelFontSize":13,"labelColor":"#3c4654","labelPadding":2,"labelOverlap":false,"labelFlush":false,"tickCount":30,"tickSize":6,"tickColor":"#e3e5e8","domain":false,"grid":false,"offset":-65,"title":null}},
"y2":{"field":"h"},
"color":{"condition":{"test":"datum.c>=datum.o","value":"#0e7a50"},"value":"#a8152d"}}},
{"data":{"name":"candles"},"mark":{"type":"bar","size":2,"strokeWidth":1},"encoding":{
"x":{"field":"i","type":"quantitative"},"y":{"field":"o","type":"quantitative"},"y2":{"field":"c"},
"fill":{"condition":{"test":"datum.c>=datum.o","value":"#15a061"},"value":"#ea2039"},
"stroke":{"condition":{"test":"datum.c>=datum.o","value":"#0e7a50"},"value":"#a8152d"}}},
{"data":{"name":"level"},"mark":{"type":"rule","strokeWidth":4.5,"color":"#b00000"},"encoding":{"x":{"field":"x0","type":"quantitative"},"x2":{"field":"x1"},"y":{"field":"v","type":"quantitative"}}},
{"data":{"name":"trend"},"mark":{"type":"rule","strokeWidth":4.4,"color":"#b00000","strokeDash":[15.5,7.8]},"encoding":{"x":{"field":"x0","type":"quantitative"},"x2":{"field":"x1"},"y":{"field":"v0","type":"quantitative"},"y2":{"field":"v1"}}},
{"data":{"name":"resist"},"mark":{"type":"rect","fill":"#b00000","fillOpacity":0.33,"stroke":"#b00000","strokeOpacity":0.25,"strokeWidth":1.5},"encoding":{"x":{"field":"x0","type":"quantitative"},"x2":{"field":"x1"},"y":{"field":"top","type":"quantitative"},"y2":{"field":"bot"}}},
{"data":{"name":"boxes"},"mark":{"type":"rect","fill":"#126144","fillOpacity":0.34,"stroke":"#126144","strokeOpacity":0.2,"strokeWidth":1.5},"encoding":{"x":{"field":"x0","type":"quantitative"},"x2":{"field":"x1"},"y":{"field":"top","type":"quantitative"},"y2":{"field":"bot"}}},
{"data":{"name":"tag"},"mark":{"type":"rect","fill":"#b00000"},"encoding":{"x":{"field":"x0","type":"quantitative"},"x2":{"field":"x1"},"y":{"field":"top","type":"quantitative"},"y2":{"field":"bot"}}},
{"data":{"name":"tag"},"mark":{"type":"text","color":"white","font":"Roboto","fontSize":12,"align":"center","baseline":"middle"},"encoding":{"x":{"field":"xc","type":"quantitative"},"y":{"field":"yc","type":"quantitative"},"text":{"field":"t"}}},
{"mark":{"type":"rule","color":"#e8e8e8","strokeWidth":2},"encoding":{"y":{"datum":3.2725,"type":"quantitative"}}},
{"data":{"values":[{"a":3.07,"b":19.0,"f":"red"},{"a":19.0,"b":38.3,"f":"grey"},{"a":38.3,"b":53.95,"f":"green"}]},"mark":{"type":"rect","cornerRadius":2},"encoding":{"x":{"field":"a","type":"quantitative"},"x2":{"field":"b"},"y":{"datum":3.9675,"type":"quantitative"},"y2":{"datum":3.9513},"fill":{"field":"f","type":"nominal","legend":null,"scale":{"domain":["red","grey","green"],"range":["#e53935","#f0f1f3","#0ab27a"]}}}},
{"data":{"values":[{"a":30.35,"b":40.77}]},"mark":{"type":"rect","fill":null,"stroke":"#e3e5e8","cornerRadius":2},"encoding":{"x":{"field":"a","type":"quantitative"},"x2":{"field":"b"},"y":{"datum":3.9872,"type":"quantitative"},"y2":{"datum":3.972}}},
{"data":{"values":[{"x":3.07,"t":"USDPLN"}]},"mark":{"type":"text","align":"left","baseline":"middle","font":"Roboto","fontSize":12,"fontWeight":"bold","color":"#55606e"},"encoding":{"x":{"field":"x","type":"quantitative"},"y":{"datum":3.9792,"type":"quantitative"},"text":{"field":"t"}}},
{"data":{"values":[{"x":19.3,"t":"FX"}]},"mark":{"type":"text","align":"left","baseline":"middle","font":"Roboto","fontSize":10,"fontWeight":"bold","color":"#9aa5b1"},"encoding":{"x":{"field":"x","type":"quantitative"},"y":{"datum":3.9792,"type":"quantitative"},"text":{"field":"t"}}},
{"data":{"values":[{"x":31.6,"t":"D1"}]},"mark":{"type":"text","align":"left","baseline":"middle","font":"Roboto","fontSize":11,"color":"#55606e"},"encoding":{"x":{"field":"x","type":"quantitative"},"y":{"datum":3.9792,"type":"quantitative"},"text":{"field":"t"}}},
{"data":{"values":[{"x":26.06},{"x":38.6}]},"mark":{"type":"point","shape":"M-1,-0.5L1,-0.5L0,0.5Z","filled":true,"size":50,"color":"#c5cad0","opacity":1},"encoding":{"x":{"field":"x","type":"quantitative"},"y":{"datum":3.9792,"type":"quantitative"}}},
{"data":{"values":[{"x":11.04,"t":"3.8344"},{"x":46.3,"t":"3.8361"}]},"mark":{"type":"text","align":"center","baseline":"middle","font":"Roboto","fontSize":12.5,"color":"white"},"encoding":{"x":{"field":"x","type":"quantitative"},"y":{"datum":3.9594,"type":"quantitative"},"text":{"field":"t"}}},
{"data":{"values":[{"x":27.9,"t":"0.10"}]},"mark":{"type":"text","align":"center","baseline":"middle","font":"Roboto","fontSize":11,"color":"#3c4654"},"encoding":{"x":{"field":"x","type":"quantitative"},"y":{"datum":3.9594,"type":"quantitative"},"text":{"field":"t"}}},
{"data":{"values":[{"x":22.07,"t":"−"},{"x":35.25,"t":"+"}]},"mark":{"type":"text","align":"center","baseline":"middle","font":"Roboto","fontSize":13,"color":"#a5acb5"},"encoding":{"x":{"field":"x","type":"quantitative"},"y":{"datum":3.9594,"type":"quantitative"},"text":{"field":"t"}}},
{"data":{"values":[{"x":56.7,"t":"SL/TP"}]},"mark":{"type":"text","align":"left","baseline":"middle","font":"Roboto","fontSize":12,"color":"#4a5565"},"encoding":{"x":{"field":"x","type":"quantitative"},"y":{"datum":3.9594,"type":"quantitative"},"text":{"field":"t"}}},
{"data":{"values":[{"x":72.96}]},"mark":{"type":"point","shape":"M-1,0.6L-0.4,0L0,0.3L0.6,-0.4L1,-0.6","filled":false,"size":196,"color":"#4a5565","strokeWidth":1.2,"opacity":1},"encoding":{"x":{"field":"x","type":"quantitative"},"y":{"datum":3.9594,"type":"quantitative"}}},
{"data":{"values":[{"x":80.6}]},"mark":{"type":"point","shape":"M-0.7,-0.9V0.9M-0.95,-0.4H-0.45V0.5H-0.95ZM0,-1V0.8M-0.25,-0.5H0.25V0.4H-0.25ZM0.7,-0.9V0.9M0.45,-0.3H0.95V0.5H0.45Z","filled":false,"size":196,"color":"#4a5565","strokeWidth":1,"opacity":1},"encoding":{"x":{"field":"x","type":"quantitative"},"y":{"datum":3.9594,"type":"quantitative"}}},
{"data":{"values":[{"x":87.98}]},"mark":{"type":"point","shape":"M0.4,-0.25A0.65,0.65 0 1 1 -0.9,-0.25A0.65,0.65 0 1 1 0.4,-0.25M-0.55,-0.25H0.05M0.22,0.3L1,1","filled":false,"size":196,"color":"#4a5565","strokeWidth":1.1,"opacity":1},"encoding":{"x":{"field":"x","type":"quantitative"},"y":{"datum":3.9594,"type":"quantitative"}}},
{"data":{"values":[{"x":95.0}]},"mark":{"type":"point","shape":"M0.4,-0.25A0.65,0.65 0 1 1 -0.9,-0.25A0.65,0.65 0 1 1 0.4,-0.25M-0.55,-0.25H0.05M-0.25,-0.55V0.05M0.22,0.3L1,1","filled":false,"size":196,"color":"#4a5565","strokeWidth":1.1,"opacity":1},"encoding":{"x":{"field":"x","type":"quantitative"},"y":{"datum":3.9594,"type":"quantitative"}}},
{"data":{"values":[{"x":102.7}]},"mark":{"type":"point","shape":"M-1,0H1M0,-1V1M-0.75,-0.25L-1,0L-0.75,0.25M0.75,-0.25L1,0L0.75,0.25M-0.25,-0.75L0,-1L0.25,-0.75M-0.25,0.75L0,1L0.25,0.75","filled":false,"size":196,"color":"#4a5565","strokeWidth":1,"opacity":1},"encoding":{"x":{"field":"x","type":"quantitative"},"y":{"datum":3.9594,"type":"quantitative"}}},
{"data":{"values":[{"x":83.1},{"x":105.2}]},"mark":{"type":"point","shape":"M1,-1L1,1L-1,1Z","filled":true,"size":9,"color":"#111111","opacity":1},"encoding":{"x":{"field":"x","type":"quantitative"},"y":{"datum":3.9527,"type":"quantitative"}}},
{"data":{"name":"topIcons"},"mark":{"type":"point","shape":"M-1,-1H1V1H-1ZM-1,-0.3H1","filled":false,"size":64,"color":"#c4c9ce","strokeWidth":1.4,"opacity":1},"encoding":{"x":{"field":"x","type":"quantitative"},"y":{"field":"y","type":"quantitative"}}},
{"data":{"values":[{"x":566.5}]},"mark":{"type":"point","shape":"M-1,-1L1,1M-1,1L1,-1","filled":false,"size":49,"color":"#c4c9ce","strokeWidth":1.2,"opacity":1},"encoding":{"x":{"field":"x","type":"quantitative"},"y":{"datum":3.9855,"type":"quantitative"}}},
{"data":{"values":[{"x":532.2,"t":"12"},{"x":541.1,"t":"22"}]},"mark":{"type":"text","align":"left","baseline":"middle","font":"Roboto","fontSize":14,"color":"#f5a04a"},"encoding":{"x":{"field":"x","type":"quantitative"},"y":{"datum":3.313,"type":"quantitative"},"text":{"field":"t"}}},
{"data":{"values":[{"x":537.1,"t":"h"},{"x":546.0,"t":"m"}]},"mark":{"type":"text","align":"left","baseline":"middle","font":"Roboto","fontSize":14,"color":"#c4c9d0"},"encoding":{"x":{"field":"x","type":"quantitative"},"y":{"datum":3.313,"type":"quantitative"},"text":{"field":"t"}}}
]}
